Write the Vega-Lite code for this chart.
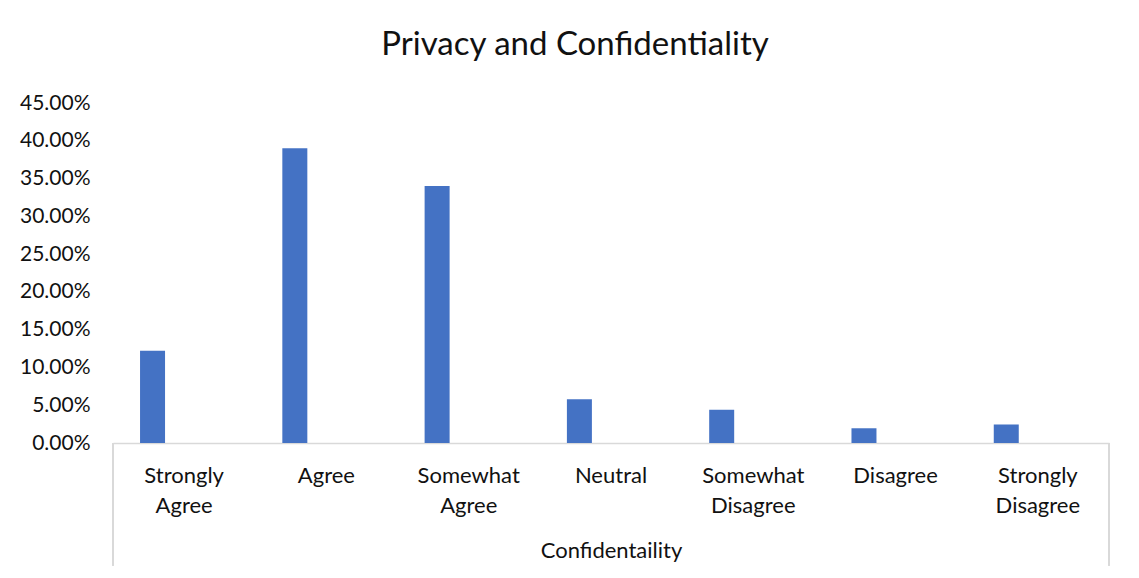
{
  "$schema": "https://vega.github.io/schema/vega-lite/v6.json",
  "width": 996,
  "height": 340,
  "autosize": {"type": "none"},
  "padding": {"left": 113, "top": 103, "right": 30, "bottom": 135},
  "background": "white",
  "title": {
    "text": "Privacy and Confidentiality",
    "font": "Lato",
    "fontSize": 33,
    "fontWeight": "normal",
    "color": "#111111",
    "anchor": "middle",
    "frame": "group",
    "dx": -36,
    "baseline": "alphabetic",
    "offset": 4
  },
  "config": {
    "view": {"stroke": null},
    "font": "Lato",
    "axisY": {
      "labelOverlap": false,
      "labelFont": "Lato",
      "labelFontSize": 21,
      "labelColor": "#111111",
      "labelPadding": 23,
      "ticks": false,
      "domain": false,
      "grid": false
    },
    "axisX": {
      "titleFont": "Lato",
      "titleFontSize": 22,
      "titleFontWeight": "normal",
      "titleColor": "#111111",
      "titleBaseline": "alphabetic",
      "titleY": 114,
      "labelAngle": 0,
      "labelFont": "Lato",
      "labelFontSize": 22,
      "labelColor": "#111111",
      "labelLineHeight": 30,
      "labelPadding": 22,
      "labelLimit": 300,
      "ticks": false,
      "grid": false,
      "domainColor": "#D9D9D9",
      "domainWidth": 1.5
    }
  },
  "data": {
    "values": [
      {"response": "Strongly Agree", "share": 0.122},
      {"response": "Agree", "share": 0.390},
      {"response": "Somewhat Agree", "share": 0.340},
      {"response": "Neutral", "share": 0.058},
      {"response": "Somewhat Disagree", "share": 0.044},
      {"response": "Disagree", "share": 0.0195},
      {"response": "Strongly Disagree", "share": 0.0245}
    ]
  },
  "layer": [
    {
      "mark": {"type": "bar", "color": "#4472C4", "width": 25, "xOffset": -31.6},
      "encoding": {
        "x": {
          "field": "response",
          "type": "nominal",
          "sort": null,
          "title": "Confidentaility",
          "scale": {
            "type": "band",
            "paddingInner": 0,
            "paddingOuter": 0,
            "domain": ["Strongly Agree", "Agree", "Somewhat Agree", "Neutral", "Somewhat Disagree", "Disagree", "Strongly Disagree"]
          },
          "axis": {"title": "Confidentaility", "labelExpr": "split(datum.label, ' ')"}
        },
        "y": {
          "field": "share",
          "type": "quantitative",
          "title": null,
          "scale": {"domain": [0, 0.45], "nice": false},
          "axis": {
            "title": null,
            "format": ".2%",
            "labelOverlap": false,
            "values": [0, 0.05, 0.1, 0.15, 0.2, 0.25, 0.3, 0.35, 0.4, 0.45]
          }
        }
      }
    },
    {
      "mark": {"type": "rule", "color": "#D9D9D9", "strokeWidth": 1.5},
      "encoding": {
        "x": {"datum": "Strongly Agree", "bandPosition": 0, "title": "Confidentaility", "axis": {"title": "Confidentaility", "labelExpr": "split(datum.label, ' ')"}},
        "y": {"datum": 0, "title": null, "axis": {"title": null, "format": ".2%", "labelOverlap": false, "values": [0, 0.05, 0.1, 0.15, 0.2, 0.25, 0.3, 0.35, 0.4, 0.45]}},
        "y2": {"datum": -0.162}
      }
    },
    {
      "mark": {"type": "rule", "color": "#D9D9D9", "strokeWidth": 1.5},
      "encoding": {
        "x": {"datum": "Strongly Disagree", "bandPosition": 1, "title": "Confidentaility", "axis": {"title": "Confidentaility", "labelExpr": "split(datum.label, ' ')"}},
        "y": {"datum": 0, "title": null, "axis": {"title": null, "format": ".2%", "labelOverlap": false, "values": [0, 0.05, 0.1, 0.15, 0.2, 0.25, 0.3, 0.35, 0.4, 0.45]}},
        "y2": {"datum": -0.162}
      }
    }
  ]
}
